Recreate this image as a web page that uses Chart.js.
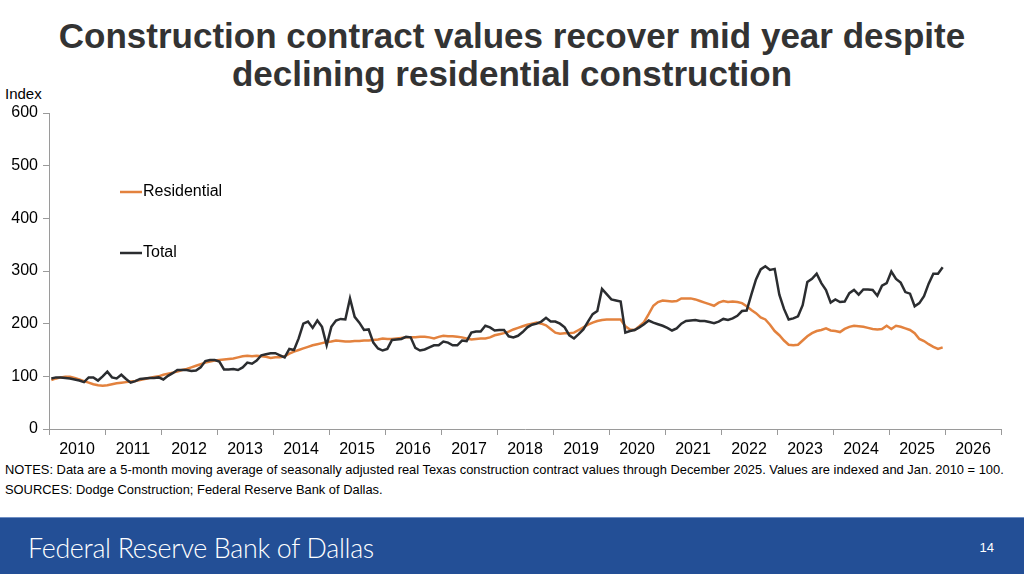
<!DOCTYPE html>
<html>
<head>
<meta charset="utf-8">
<script src="https://cdn.jsdelivr.net/npm/chart.js@4.4.1/dist/chart.umd.min.js"></script>
<style>
  html, body { margin: 0; padding: 0; background: #fff; }
  body { width: 1024px; height: 574px; position: relative; overflow: hidden; font-family: "Liberation Sans", Arial, sans-serif; }
  #title { position: absolute; top: 17px; left: 0; width: 1024px; text-align: center; font-weight: bold; font-size: 35px; line-height: 38px; color: #333; }
  #unit { position: absolute; left: 5px; top: 85px; font-size: 15px; color: #000; }
  #wrap { position: absolute; left: 0; top: 85px; width: 1024px; height: 375px; }
  #notes { position: absolute; left: 5px; top: 460px; font-size: 12.9px; line-height: 20px; color: #000; white-space: nowrap; }
  #footer { position: absolute; left: 0; top: 517px; width: 1024px; height: 57px; background: #234f96; border-top: 1px solid #6f8fc4; }
  #footer .bank { position: absolute; left: 28px; top: 14px; font-family: Lato, "Open Sans", sans-serif; font-weight: 300; font-size: 26.8px; color: #fff; letter-spacing: -0.3px; }
  #footer .page { position: absolute; right: 30px; top: 22px; font-size: 13px; color: #fff; }
</style>
</head>
<body>
<div id="title">Construction contract values recover mid year despite<br>declining residential construction</div>
<div id="unit">Index</div>
<div id="wrap"><canvas id="chart"></canvas></div>
<div id="notes">NOTES: Data are a 5-month moving average of seasonally adjusted real Texas construction contract values through December 2025. Values are indexed and Jan. 2010 = 100.<br>SOURCES: Dodge Construction; Federal Reserve Bank of Dallas.</div>
<div id="footer"><span class="bank">Federal Reserve Bank of Dallas</span><span class="page">14</span></div>
<script>
// year labels on the x axis (monthly data, Jan 2010 - Dec 2025)
const years = ['2010', '2011', '2012', '2013', '2014', '2015', '2016', '2017', '2018',
               '2019', '2020', '2021', '2022', '2023', '2024', '2025', '2026'];

const total = [
  96, 98, 98, 97, 96, 94, 92, 89, 98, 98, 92, 100,
  109, 98, 96, 103, 95, 88, 91, 95, 96, 97, 97, 98,
  94, 101, 106, 112, 112, 112, 110, 111, 117, 129, 131, 131,
  128, 113, 113, 114, 112, 117, 126, 124, 130, 140, 142, 144,
  144, 140, 136, 152, 150, 172, 200, 204, 192, 206, 194, 159,
  194, 206, 209, 208, 248, 213, 202, 188, 189, 164, 153, 149,
  152, 169, 170, 171, 175, 174, 154, 149, 151, 155, 159, 159,
  166, 164, 159, 159, 168, 167, 183, 185, 185, 196, 193, 187,
  188, 188, 176, 174, 177, 184, 193, 198, 200, 204, 211, 204,
  204, 200, 193, 178, 172, 180, 189, 204, 218, 224, 266, 256,
  246, 244, 242, 183, 186, 188, 193, 199, 206, 202, 199, 196,
  192, 187, 191, 200, 205, 206, 207, 205, 205, 203, 201, 204,
  209, 207, 210, 215, 224, 225, 255, 284, 303, 309, 302, 304,
  255, 228, 208, 210, 214, 235, 279, 285, 295, 277, 264, 240,
  246, 241, 242, 258, 264, 255, 265, 265, 264, 253, 272, 277,
  299, 285, 278, 260, 257, 233, 239, 252, 276, 295, 295, 307
];

const residential = [
  93, 96, 98, 99, 99, 97, 94, 91, 88, 85, 83, 82,
  83, 85, 87, 88, 89, 90, 91, 93, 95, 97, 99, 100,
  103, 105, 107, 109, 112, 114, 117, 120, 123, 126, 128, 130,
  131, 132, 133, 134, 136, 138, 139, 138, 139, 138, 137, 135,
  136, 136, 138, 143, 147, 150, 153, 156, 159, 161, 163, 165,
  166, 168, 167, 166, 166, 167, 167, 168, 168, 169, 170, 172,
  171, 171, 172, 173, 174, 174, 174, 175, 175, 174, 172, 175,
  177, 176, 176, 175, 174, 172, 170, 171, 172, 172, 174, 178,
  180, 182, 185, 189, 192, 195, 198, 200, 202, 200, 197, 190,
  183, 181, 182, 182, 183, 188, 193, 198, 202, 205, 207, 208,
  208, 208, 208, 195, 189, 188, 195, 203, 218, 234, 241, 244,
  243, 242, 243, 248, 248, 248, 246, 243, 240, 237, 234, 240,
  243, 241, 242, 241, 239, 233, 226, 220, 212, 208, 198, 186,
  178, 168, 160, 159, 160, 168, 176, 182, 186, 188, 191, 187,
  186, 184, 190, 194, 196, 195, 194, 192, 190, 189, 190, 196,
  190, 196, 194, 191, 188, 182, 171, 167, 161, 156, 152, 155
];

const ORANGE = '#e3823e';
const DARK = '#2b2d30';
const AXIS = '#9a9a9a';

// month i sits in the middle of its month slot
const toPoints = arr => arr.map((v, i) => ({ x: i + 0.5, y: v }));

// legend drawn inside the plot, like the original slide
const innerLegend = {
  id: 'innerLegend',
  afterDraw(chart) {
    const c = chart.ctx;
    const items = [
      { ds: chart.data.datasets[1], y: 107 },
      { ds: chart.data.datasets[0], y: 168 }
    ];
    c.save();
    c.font = '16px "Liberation Sans", Arial, sans-serif';
    c.textBaseline = 'middle';
    c.fillStyle = '#000';
    items.forEach(it => {
      c.strokeStyle = it.ds.borderColor;
      c.lineWidth = 2.5;
      c.beginPath();
      c.moveTo(120, it.y);
      c.lineTo(142, it.y);
      c.stroke();
      c.fillText(it.ds.label, 143, it.y);
    });
    c.restore();
  }
};

const ctx = document.getElementById('chart').getContext('2d');
new Chart(ctx, {
  type: 'line',
  data: {
    datasets: [
      { label: 'Total', data: toPoints(total), borderColor: DARK, borderWidth: 2.5, pointRadius: 0, tension: 0 },
      { label: 'Residential', data: toPoints(residential), borderColor: ORANGE, borderWidth: 2.5, pointRadius: 0, tension: 0 }
    ]
  },
  options: {
    responsive: true,
    maintainAspectRatio: false,
    animation: false,
    layout: { padding: { top: 28, right: 23, left: 0, bottom: 0 } },
    plugins: { legend: { display: false }, tooltip: { enabled: false } },
    scales: {
      x: { type: 'linear', min: 0, max: years.length * 12, display: false },
      years: {
        type: 'category',
        labels: years,
        position: 'bottom',
        offset: true,
        grid: { offset: true, drawOnChartArea: false, drawTicks: true, tickLength: 6, color: AXIS },
        border: { color: AXIS, width: 1 },
        ticks: { color: '#000', font: { size: 16, family: '"Liberation Sans", Arial, sans-serif' }, padding: 5, maxRotation: 0, autoSkip: false },
        afterFit: s => { s.height = 31; }
      },
      y: {
        min: 0, max: 600,
        ticks: { stepSize: 100, color: '#000', font: { size: 16, family: '"Liberation Sans", Arial, sans-serif' }, padding: 5 },
        grid: { drawOnChartArea: false, drawTicks: true, tickLength: 6, color: AXIS },
        border: { color: AXIS, width: 1 },
        afterFit: s => { s.width = 49; }
      }
    }
  },
  plugins: [innerLegend]
});
</script>
</body>
</html>
